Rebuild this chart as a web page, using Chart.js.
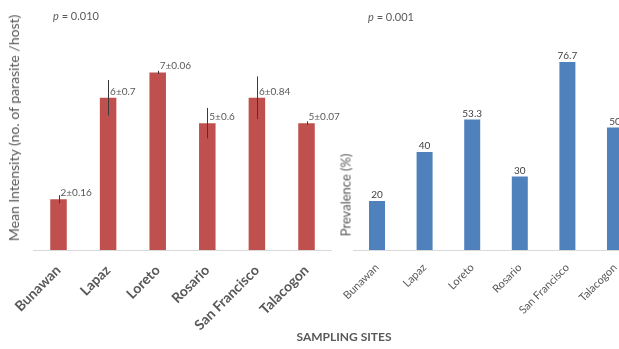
<!DOCTYPE html>
<html>
<head>
<meta charset="utf-8">
<script src="https://cdn.jsdelivr.net/npm/chart.js@4/dist/chart.umd.min.js"></script>
<style>
  html, body { margin: 0; padding: 0; background: #fff; overflow: hidden; width: 619px; height: 349px; }
  #wrap { position: relative; width: 619px; height: 349px; overflow: hidden; font-family: Lato, "Open Sans", sans-serif; }
  canvas { position: absolute; top: 0; }
  #intensityChart { left: 0; }
  #prevalenceChart { left: 330px; }
  .txt { position: absolute; color: #595959; white-space: nowrap; line-height: 1; }
  .rot { transform: translate(-50%, -50%) rotate(-90deg); }
  .pval { font-size: 11px; }
  .pval i { font-style: italic; }
</style>
</head>
<body>
<div id="wrap">
  <canvas id="intensityChart" width="360" height="349"></canvas>
  <canvas id="prevalenceChart" width="310" height="349"></canvas>

  <div class="txt rot" style="left:14px; top:128px; font-size:14px;">Mean Intensity (no. of parasite /host)</div>
  <div class="txt rot" style="left:346px; top:195px; font-size:13px;">Prevalence (%)</div>
  <div class="txt pval" style="left:53px; top:10px;"><i>p</i> = 0.010</div>
  <div class="txt pval" style="left:368px; top:11px;"><i>p</i> = 0.001</div>
  <div class="txt" style="left:344px; top:337px; transform: translate(-50%, -50%); font-size:12px; font-weight:bold;">SAMPLING SITES</div>
</div>

<script>
// Sampling sites and the two measured quantities per site
const sites = ['Bunawan', 'Lapaz', 'Loreto', 'Rosario', 'San Francisco', 'Talacogon'];
const meanIntensity = [2, 6, 7, 5, 6, 5];
const intensitySD = [0.16, 0.7, 0.06, 0.6, 0.84, 0.07];
const prevalence = [20, 40, 53.3, 30, 76.7, 50];

const FONT = 'Lato, "Open Sans", sans-serif';
const TEXT_GREY = '#595959';

// Mean ± SD whiskers and value labels for the intensity bars
const intensityDecor = {
  id: 'intensityDecor',
  afterDatasetsDraw(chart) {
    const ctx = chart.ctx;
    const y = chart.scales.y;
    const meta = chart.getDatasetMeta(0);
    ctx.save();
    meta.data.forEach((bar, i) => {
      const m = meanIntensity[i], sd = intensitySD[i];
      const yTop = y.getPixelForValue(m + sd);
      const yBot = y.getPixelForValue(m - sd);
      const x = Math.round(bar.x) + 0.5;
      ctx.strokeStyle = '#3a3a3a';
      ctx.lineWidth = 1;
      ctx.beginPath();
      ctx.moveTo(x, yTop);
      ctx.lineTo(x, yBot);
      ctx.stroke();
      ctx.fillStyle = TEXT_GREY;
      ctx.font = '10px ' + FONT;
      ctx.textAlign = 'left';
      ctx.textBaseline = 'alphabetic';
      ctx.fillText(m + '±' + sd, bar.x + 2, bar.y - 3);
    });
    ctx.restore();
  }
};

// Value labels centred above the prevalence bars
const prevalenceLabels = {
  id: 'prevalenceLabels',
  afterDatasetsDraw(chart) {
    const ctx = chart.ctx;
    const meta = chart.getDatasetMeta(0);
    ctx.save();
    ctx.fillStyle = '#404040';
    ctx.font = '10px ' + FONT;
    ctx.textAlign = 'center';
    ctx.textBaseline = 'bottom';
    meta.data.forEach((bar, i) => {
      ctx.fillText(String(prevalence[i]), bar.x, bar.y - 1);
    });
    ctx.restore();
  }
};

function xAxis(fontSize, weight, pad) {
  return {
    grid: { display: false, drawTicks: false },
    border: { display: true, color: '#d9d9d9' },
    ticks: {
      autoSkip: false,
      minRotation: 45,
      maxRotation: 45,
      padding: pad,
      color: TEXT_GREY,
      font: { family: FONT, size: fontSize, weight: weight }
    },
    afterFit(scale) { scale.height = 99; }
  };
}

new Chart(document.getElementById('intensityChart'), {
  type: 'bar',
  data: {
    labels: sites,
    datasets: [{
      data: meanIntensity,
      backgroundColor: '#C0504D',
      barPercentage: 0.333,
      categoryPercentage: 1
    }]
  },
  options: {
    responsive: false,
    animation: false,
    layout: { autoPadding: false, padding: { left: 33.7, right: 28.7, top: 47, bottom: 0 } },
    plugins: { legend: { display: false }, tooltip: { enabled: false } },
    scales: {
      x: xAxis(14, 'bold', 12),
      y: { display: false, min: 0, max: 8 }
    }
  },
  plugins: [intensityDecor]
});

new Chart(document.getElementById('prevalenceChart'), {
  type: 'bar',
  data: {
    labels: sites,
    datasets: [{
      data: prevalence,
      backgroundColor: '#4F81BD',
      barPercentage: 0.336,
      categoryPercentage: 1
    }]
  },
  options: {
    responsive: false,
    animation: false,
    layout: { autoPadding: false, padding: { left: 23.2, right: 1.2, top: 54, bottom: 0 } },
    plugins: { legend: { display: false }, tooltip: { enabled: false } },
    scales: {
      x: xAxis(11, 'normal', 11),
      y: { display: false, min: 0, max: 80 }
    }
  },
  plugins: [prevalenceLabels]
});
</script>
</body>
</html>
